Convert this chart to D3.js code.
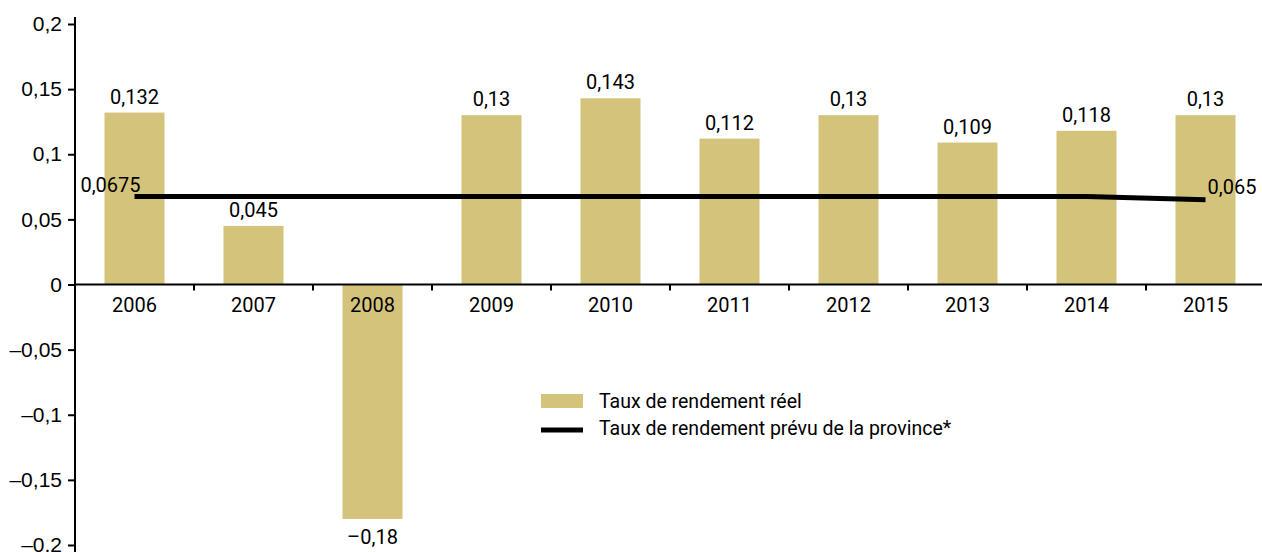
<!DOCTYPE html>
<meta charset='utf-8'>
<style>
  body { margin: 0; background: #fff; }
  .axis-text { font-family: 'Liberation Sans', Arial, sans-serif; font-size: 21px; fill: #000; }
  .lbl { font-family: Roboto, 'Liberation Sans Narrow', sans-serif; font-size: 20px; fill: #000; }
</style>
<body>
<script src='https://d3js.org/d3.v7.min.js'></script>
<script>

    var years = ['2006', '2007', '2008', '2009', '2010', '2011', '2012', '2013', '2014', '2015'];
    var reel = [0.132, 0.045, -0.18, 0.13, 0.143, 0.112, 0.13, 0.109, 0.118, 0.13];
    var prevu = [0.0675, 0.0675, 0.0675, 0.0675, 0.0675, 0.0675, 0.0675, 0.0675, 0.0675, 0.065];
    var yTicks = [0.2, 0.15, 0.1, 0.05, 0, -0.05, -0.1, -0.15, -0.2];
    var legendLabels = ['Taux de rendement réel', 'Taux de rendement prévu de la province*'];

    var colors = { gold: '#D4C47B', black: '#000000' };
    var width = 1262, height = 552;

    var fmt = function(v) {
        return (v < 0 ? '\u2013' : '') + String(Math.abs(v)).replace('.', ',');
    };

    var svg = d3.select('body').append('svg')
        .attr('width', width)
        .attr('height', height);

    var xStep = d3.scaleBand().domain(years).range([75, 1265]);
    var y = d3.scaleLinear().domain([-0.2, 0.2]).range([545, 24]);
    var barW = 60;

    // bars
    svg.selectAll('rect.bar')
        .data(reel)
        .enter()
        .append('rect')
        .attr('class', 'bar')
        .attr('x', function(d, i) { return xStep(years[i]) + (xStep.step() - barW) / 2; })
        .attr('width', barW)
        .attr('y', function(d) { return y(Math.max(0, d)); })
        .attr('height', function(d) { return Math.abs(y(d) - y(0)); })
        .attr('fill', colors.gold);

    // bar value labels
    svg.selectAll('text.val')
        .data(reel)
        .enter()
        .append('text')
        .attr('class', 'lbl')
        .attr('x', function(d, i) { return xStep(years[i]) + xStep.step() / 2; })
        .attr('y', function(d) { return d >= 0 ? y(d) - 9 : y(d) + 25; })
        .attr('text-anchor', 'middle')
        .text(function(d) { return fmt(d); });

    // y axis
    var yAxis = svg.append('g')
        .attr('transform', 'translate(75,0)')
        .call(d3.axisLeft(y).tickValues(yTicks).tickSize(7).tickPadding(6).tickFormat(fmt));
    yAxis.select('.domain').remove();
    yAxis.selectAll('.tick line').attr('stroke', '#000').attr('stroke-width', 2);
    yAxis.selectAll('.tick text').attr('class', 'axis-text').attr('font-family', null).attr('font-size', null);
    svg.append('line')
        .attr('x1', 75).attr('x2', 75)
        .attr('y1', 17).attr('y2', height)
        .attr('stroke', '#000').attr('stroke-width', 2);

    // x axis at zero
    var xAxis = svg.append('g')
        .attr('transform', 'translate(0,' + y(0) + ')')
        .call(d3.axisBottom(xStep).tickSize(0).tickPadding(13));
    xAxis.select('.domain').remove();
    xAxis.selectAll('.tick text').attr('class', 'lbl').attr('font-family', null).attr('font-size', null)
        .attr('dy', '0.71em');
    svg.append('line')
        .attr('x1', 75).attr('x2', width)
        .attr('y1', y(0)).attr('y2', y(0))
        .attr('stroke', '#000').attr('stroke-width', 2);
    svg.selectAll('line.xtick')
        .data(years.slice(1))
        .enter()
        .append('line')
        .attr('x1', function(d) { return xStep(d); })
        .attr('x2', function(d) { return xStep(d); })
        .attr('y1', y(0)).attr('y2', y(0) + 6)
        .attr('stroke', '#000').attr('stroke-width', 2);

    // line series
    var line = d3.line()
        .x(function(d, i) { return xStep(years[i]) + xStep.step() / 2; })
        .y(function(d) { return y(d); });

    svg.append('path')
        .datum(prevu)
        .attr('d', line)
        .attr('fill', 'none')
        .attr('stroke', colors.black)
        .attr('stroke-width', 5);

    var first = 0, last = prevu.length - 1;
    svg.append('text')
        .attr('class', 'lbl')
        .attr('x', xStep(years[first]) + xStep.step() / 2 - 24)
        .attr('y', y(prevu[first]) - 5)
        .attr('text-anchor', 'middle')
        .text(fmt(prevu[first]));
    svg.append('text')
        .attr('class', 'lbl')
        .attr('x', xStep(years[last]) + xStep.step() / 2 + 2)
        .attr('y', y(prevu[last]) - 6)
        .attr('text-anchor', 'start')
        .text(fmt(prevu[last]));

    // legend
    var legend = svg.append('g').attr('transform', 'translate(541,394)');
    legend.append('rect')
        .attr('width', 42).attr('height', 14)
        .attr('fill', colors.gold);
    legend.append('line')
        .attr('x1', 0).attr('x2', 42)
        .attr('y1', 36).attr('y2', 36)
        .attr('stroke', colors.black).attr('stroke-width', 5);
    legend.selectAll('text.leg')
        .data(legendLabels)
        .enter()
        .append('text')
        .attr('class', 'lbl')
        .attr('x', 58)
        .attr('y', function(d, i) { return 14 + i * 27; })
        .style('font-size', '19.5px')
        .text(function(d) { return d; });

</script>
</body>
